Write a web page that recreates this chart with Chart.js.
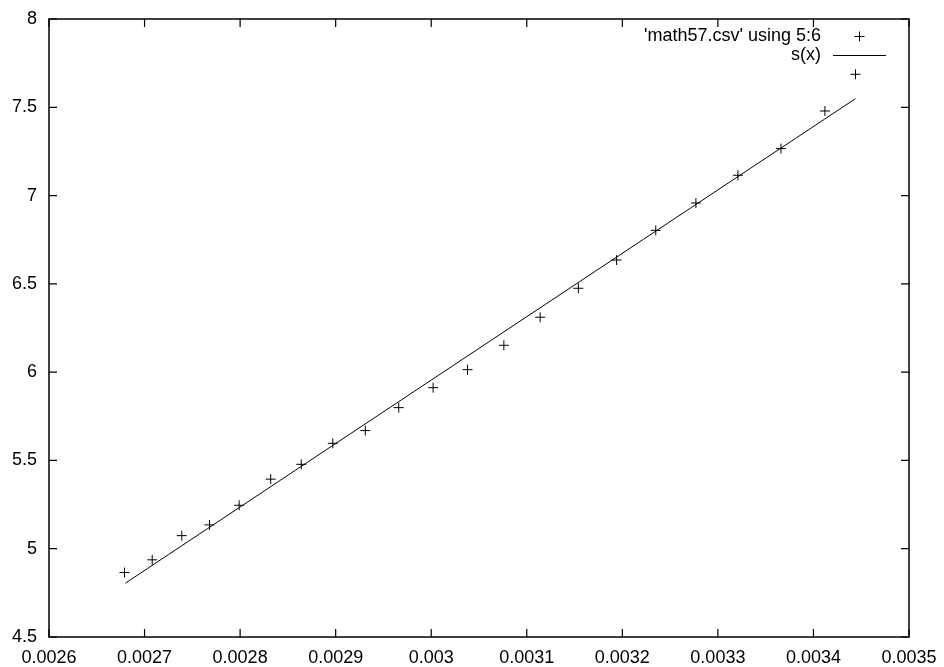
<!DOCTYPE html>
<html>
  <head>
    <script src="https://cdn.jsdelivr.net/npm/chart.js"></script>
    <style>
      body { margin: 0; padding: 0; background: white; }
      canvas { width: 944px !important; height: 667px !important; }
    </style>
  </head>
  <body>
    <canvas id="myChart" width="944" height="667"></canvas>
    <script>
      // data
      const dataX = [0.002679, 0.002708, 0.002739, 0.002768, 0.002799, 0.002832, 0.002864, 0.002897,
                     0.002931, 0.002966, 0.003002, 0.003038, 0.003076, 0.003114, 0.003154, 0.003194,
                     0.003235, 0.003277, 0.003321, 0.003366, 0.003412, 0.003444];
      const dataY = [4.865, 4.937, 5.074, 5.135, 5.246, 5.394, 5.478, 5.597,
                     5.669, 5.799, 5.912, 6.014, 6.152, 6.311, 6.475, 6.635,
                     6.803, 6.958, 7.115, 7.266, 7.479, 7.687];
      const fitX = [0.00268, 0.00300, 0.003444];
      const fitY = [4.805, 5.955, 7.549];
      const xTickLabels = ['0.0026', '0.0027', '0.0028', '0.0029', '0.003', '0.0031', '0.0032', '0.0033', '0.0034', '0.0035'];
      const yTickLabels = ['4.5', '5', '5.5', '6', '6.5', '7', '7.5', '8'];
      const seriesNames = ["'math57.csv' using 5:6", 's(x)'];

      const FONT = '"Liberation Sans", Arial, sans-serif';

      // gnuplot style frame with inward ticks on all four sides
      const framePlugin = {
        id: 'frame',
        afterDraw(chart) {
          const { ctx, chartArea: a, scales } = chart;
          ctx.save();
          ctx.strokeStyle = '#000';
          ctx.lineWidth = 1.5;
          ctx.strokeRect(a.left, a.top, a.right - a.left, a.bottom - a.top);
          ctx.lineWidth = 1.2;
          ctx.beginPath();
          scales.x.ticks.forEach(t => {
            const px = scales.x.getPixelForValue(t.value);
            ctx.moveTo(px, a.bottom); ctx.lineTo(px, a.bottom - 8);
            ctx.moveTo(px, a.top); ctx.lineTo(px, a.top + 8);
          });
          scales.y.ticks.forEach(t => {
            const py = scales.y.getPixelForValue(t.value);
            ctx.moveTo(a.left, py); ctx.lineTo(a.left + 8, py);
            ctx.moveTo(a.right, py); ctx.lineTo(a.right - 8, py);
          });
          ctx.stroke();

          // legend, gnuplot style: text right aligned, sample on the right
          ctx.font = '18px ' + FONT;
          ctx.fillStyle = '#000';
          ctx.textAlign = 'right';
          ctx.textBaseline = 'middle';
          ctx.fillText(seriesNames[0], 821, 36);
          ctx.fillText(seriesNames[1], 821, 55);
          ctx.lineWidth = 1;
          ctx.beginPath();
          ctx.moveTo(854.5, 36.5); ctx.lineTo(864.5, 36.5);
          ctx.moveTo(859.5, 31.5); ctx.lineTo(859.5, 41.5);
          ctx.moveTo(833, 55.5); ctx.lineTo(886, 55.5);
          ctx.stroke();
          ctx.restore();
        }
      };

      const ctx = document.getElementById('myChart').getContext('2d');
      new Chart(ctx, {
        type: 'scatter',
        data: {
          datasets: [
            {
              label: seriesNames[0],
              data: dataX.map((x, i) => ({ x: x, y: dataY[i] })),
              pointStyle: 'cross',
              pointRadius: 5,
              borderColor: '#000',
              borderWidth: 1,
              showLine: false
            },
            {
              label: seriesNames[1],
              data: fitX.map((x, i) => ({ x: x, y: fitY[i] })),
              showLine: true,
              borderColor: '#000',
              borderWidth: 1,
              pointRadius: 0,
              tension: 0.4
            }
          ]
        },
        options: {
          responsive: false,
          animation: false,
          layout: { padding: { top: 19, right: 35, left: 0, bottom: 0 } },
          plugins: {
            legend: { display: false },
            tooltip: { enabled: false }
          },
          scales: {
            x: {
              type: 'linear',
              min: 0.0026,
              max: 0.0035,
              afterBuildTicks: s => { s.ticks = xTickLabels.map(v => ({ value: parseFloat(v) })); },
              afterFit: s => { s.height = 30; s.paddingLeft = 0; s.paddingRight = 0; },
              grid: { display: false, drawTicks: false },
              border: { display: false },
              ticks: {
                padding: 10,
                color: '#000',
                font: { family: FONT, size: 18 },
                maxRotation: 0,
                callback: (v, i) => xTickLabels[i]
              }
            },
            y: {
              min: 4.5,
              max: 8,
              afterBuildTicks: s => { s.ticks = yTickLabels.map(v => ({ value: parseFloat(v) })); },
              afterFit: s => { s.width = 49; s.paddingTop = 0; s.paddingBottom = 0; },
              grid: { display: false, drawTicks: false },
              border: { display: false },
              ticks: {
                padding: 12,
                color: '#000',
                font: { family: FONT, size: 18 },
                callback: (v, i) => yTickLabels[i]
              }
            }
          }
        },
        plugins: [framePlugin]
      });
    </script>
  </body>
</html>
